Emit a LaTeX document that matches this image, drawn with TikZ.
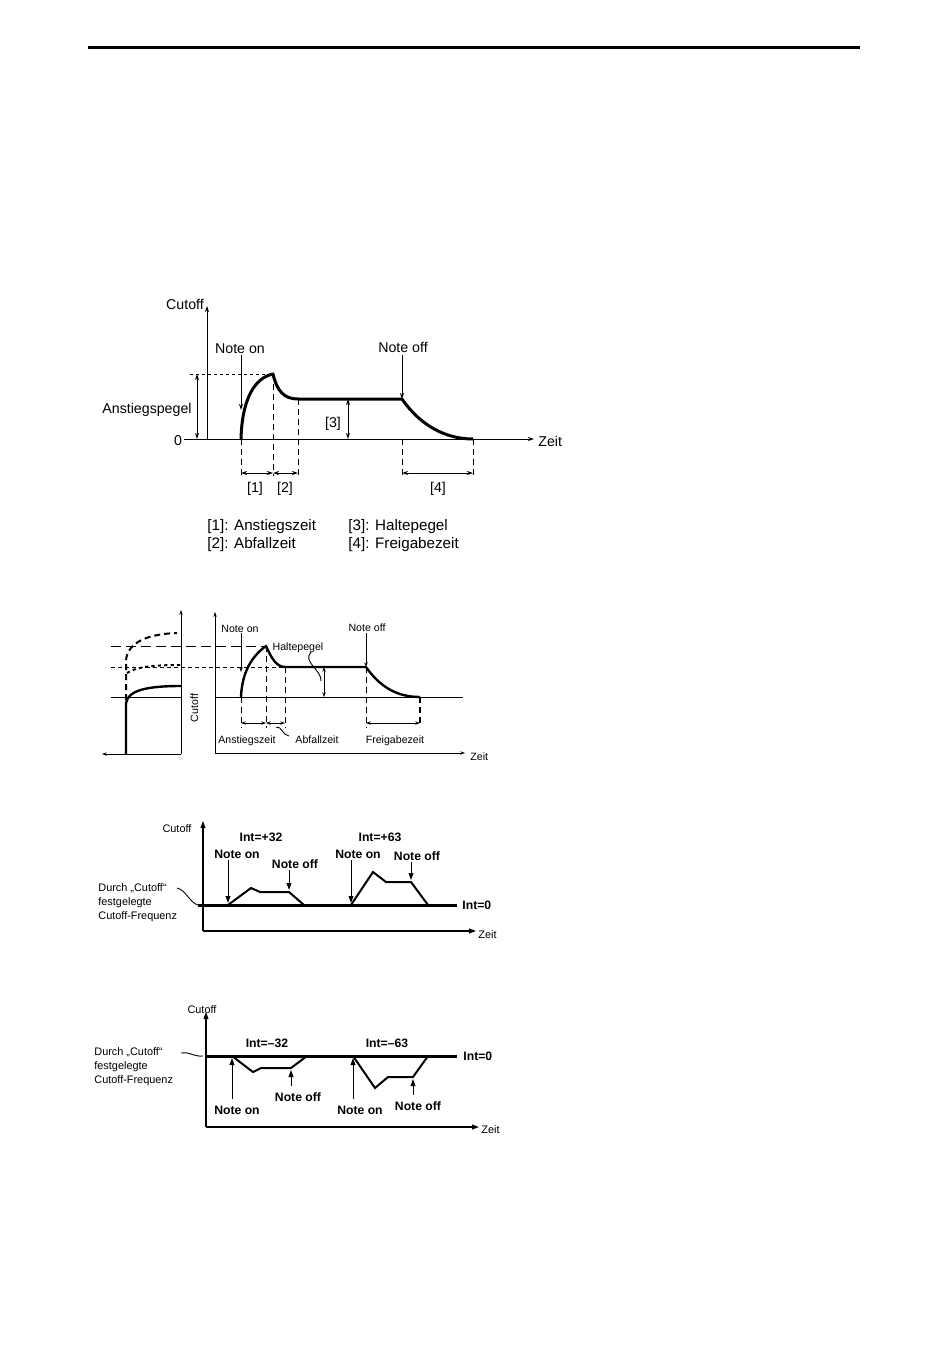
\documentclass[tikz,border=0pt]{standalone}
\usepackage{fontspec}
\setmainfont{Liberation Sans}
\usetikzlibrary{arrows.meta}
\newcommand{\fa}{\fontsize{7.1}{8.5}\selectfont}
\newcommand{\fl}{\fontsize{7.6}{9}\selectfont}
\newcommand{\fb}{\fontsize{5.3}{6.4}\selectfont}
\newcommand{\fc}{\fontsize{5.45}{7}\selectfont}
\newcommand{\fcb}{\fontsize{6.1}{7.3}\selectfont\bfseries}
\begin{document}
\begin{tikzpicture}[x=0.5pt,y=-0.5pt,
  lbl/.style={inner sep=0pt, text height=0.62em, text depth=0em},
  thinax/.style={line width=0.5pt},
  tipa/.style={-{Stealth[length=3pt,width=2pt]}},
  dtipa/.style={{Stealth[length=3pt,width=2pt]}-{Stealth[length=3pt,width=2pt]}},
  tipb/.style={-{Stealth[length=2.4pt,width=1.7pt]}},
  dtipb/.style={{Stealth[length=2.4pt,width=1.7pt]}-{Stealth[length=2.4pt,width=1.7pt]}},
  tipc/.style={-{Triangle[length=3.5pt,width=2.4pt]}},
  dsh/.style={line width=0.5pt, dash pattern=on 3pt off 2pt},
  env1/.style={line width=1.5pt, line join=round},
  env2/.style={line width=1.2pt, line join=round},
  pulse/.style={line width=1pt, line join=miter},
  base/.style={line width=1.5pt},
  leader/.style={line width=0.45pt}
]
\useasboundingbox[fill=white] (0,0) rectangle (950,1370);

% ---------- top rule ----------
\coordinate (r0) at (88,47.5);
\coordinate (r1) at (327,47.5);
\coordinate (r2) at (860,47.5);
\draw[line width=1.8pt] (r0) -- (r1);
\draw[line width=1.5pt] ([yshift=0.15pt]r1) -- ([yshift=0.15pt]r2);

% ================= FIGURE 1 =================
\coordinate (o1) at (207,439);
\coordinate (ytop1) at (207,306);
\coordinate (xl1) at (184,439);
\coordinate (xr1) at (534,439);
\draw[thinax,tipa] (o1) -- (ytop1);
\draw[thinax,tipa] (xl1) -- (xr1);
\node[lbl,font=\fa] (cut1) at (185,303) {Cutoff};
\node[lbl,font=\fa,anchor=west] (zeit1) at (538,440) {Zeit};
\node[lbl,font=\fa] (zero1) at (178,439) {0};

\coordinate (a0) at (241,439);
\coordinate (a1) at (273,374);
\coordinate (a2) at (298,399);
\coordinate (a3) at (402,399);
\coordinate (a4) at (473,439);
\draw[env1] (a0) .. controls (242,400) and (254,378) .. (a1)
  .. controls (277,391) and (284,399) .. (a2) -- (a3)
  .. controls (420,425) and (445,439) .. (a4);

% dotted level line
\coordinate (lv1) at (190,374);
\draw[line width=0.5pt, dash pattern=on 1.5pt off 1.5pt] (lv1) -- (a1);
% Anstiegspegel
\coordinate (ap0) at (197,374);
\coordinate (ap1) at (197,439);
\draw[thinax,dtipa] (ap0) -- (ap1);
\node[lbl,font=\fa,anchor=east] (anst) at (192,407) {Anstiegspegel};

% Note on / off
\node[lbl,font=\fa] (non1) at (240,347) {Note on};
\coordinate (non1t) at (241,410);
\draw[thinax,tipa] (241,355) -- (non1t);
\node[lbl,font=\fa] (noff1) at (403,346) {Note off};
\draw[thinax,tipa] (402,355) -- (a3);

% [3]
\coordinate (h0) at (348,399);
\coordinate (h1) at (348,439);
\draw[thinax,dtipa] (h0) -- (h1);
\node[lbl,font=\fa] (l3) at (333,421) {[3]};

% dashed verticals
\coordinate (d0) at (241,476);
\coordinate (d1) at (273,476);
\coordinate (d2) at (298,476);
\coordinate (d3) at (402,476);
\coordinate (d4) at (473,476);
\draw[dsh] (a0) -- (d0);
\draw[dsh] (a1) -- (d1);
\draw[dsh] (a2) -- (d2);
\draw[dsh] (402,439) -- (d3);
\draw[dsh] (a4) -- (d4);
% dimension arrows
\draw[thinax,dtipa] (241,473) -- (273,473);
\draw[thinax,dtipa] (273,473) -- (298,473);
\draw[thinax,dtipa] (402,473) -- (473,473);
\node[lbl,font=\fa] (l1) at (255,486) {[1]};
\node[lbl,font=\fa] (l2) at (285,486) {[2]};
\node[lbl,font=\fa] (l4) at (438,486) {[4]};

% legend
\node[lbl,font=\fl,anchor=west] (lg1) at (207,524) {[1]: Anstiegszeit};
\node[lbl,font=\fl,anchor=west] (lg2) at (207,542) {[2]: Abfallzeit};
\node[lbl,font=\fl,anchor=west] (lg3) at (348,524) {[3]: Haltepegel};
\node[lbl,font=\fl,anchor=west] (lg4) at (348,542) {[4]: Freigabezeit};

% ================= FIGURE 2 =================
% left panel
\coordinate (lo) at (181,754);
\draw[thinax,tipb] (lo) -- (181,610);
\draw[thinax,tipb] (lo) -- (102,754);
\draw[thinax] (111,697) -- (181,697);
\draw[env2] (126,754) -- (126,703) .. controls (128,690) and (148,686) .. (181,686);
\draw[line width=1pt, dash pattern=on 3pt off 2pt] (126,700) -- (126,660)
  .. controls (128,642) and (148,634) .. (177,633);
\draw[line width=1pt, dash pattern=on 1.6pt off 1.6pt] (127,673)
  .. controls (136,667) and (152,665) .. (181,665);
% long dash / short dash level lines
\draw[line width=0.5pt, dash pattern=on 5pt off 2.5pt] (111,646) -- (266,646);
\draw[line width=0.5pt, dash pattern=on 2pt off 1.5pt] (111,667) -- (285,667);
\node[lbl,font=\fb,rotate=90] (cut2) at (192,708) {Cutoff};

% right panel
\coordinate (ro) at (215,753);
\draw[thinax,tipb] (ro) -- (215,612);
\draw[thinax,tipb] (ro) -- (465,753);
\node[lbl,font=\fb,anchor=west] (zeit2) at (470,754) {Zeit};
\draw[thinax] (215,697) -- (463,697);

\coordinate (b0) at (241,697);
\coordinate (b1) at (266,646);
\coordinate (b2) at (285,667);
\coordinate (b3) at (366,667);
\coordinate (b4) at (420,697);
\draw[env2] (b0) .. controls (242,672) and (252,656) .. (b1)
  .. controls (271,657) and (276,667) .. (b2) -- (b3)
  .. controls (378,684) and (394,697) .. (b4);

\node[lbl,font=\fb] (non2) at (240,626) {Note on};
\draw[thinax,tipb] (241,633) -- (241,672);
\node[lbl,font=\fb] (noff2) at (367,625) {Note off};
\draw[thinax,tipb] (366,633) -- (b3);
\node[lbl,font=\fb] (halt2) at (298,644) {Haltepegel};
\draw[leader] (311,652) .. controls (302,662) and (322,670) .. (321,681);
\draw[thinax,dtipb] (324,667) -- (324,697);

\draw[dsh] (b0) -- (241,728);
\draw[dsh] (b1) -- (266,728);
\draw[dsh] (b2) -- (285,728);
\draw[dsh] (b3) -- (366,728);
\draw[line width=1pt, dash pattern=on 3pt off 2pt] (b4) -- (420,727);
\draw[thinax,dtipb] (241,723) -- (266,723);
\draw[thinax,dtipb] (266,723) -- (285,723);
\draw[thinax,dtipb] (366,723) -- (420,723);
\node[lbl,font=\fb] (ans2) at (247,737) {Anstiegszeit};
\node[lbl,font=\fb] (abf2) at (317,737) {Abfallzeit};
\draw[leader] (276,727) .. controls (282,726) and (282,735) .. (289,736);
\node[lbl,font=\fb] (frei2) at (395,737) {Freigabezeit};

% ================= FIGURE 3 =================
\coordinate (o3) at (203,931);
\draw[line width=0.6pt,tipc] (o3) -- (203,821);
\draw[line width=0.6pt,tipc] (o3) -- (476,931);
\node[lbl,font=\fc] (cut3) at (177,826) {Cutoff};
\node[lbl,font=\fc,anchor=west] (zeit3) at (478,932) {Zeit};
\draw[base] (198,905) -- (457,905);
\node[lbl,font=\fcb,anchor=west] (int30) at (462,903) {Int=0};
\draw[pulse] (228,905) -- (251,888) -- (260,892) -- (289,892) -- (304,905);
\draw[pulse] (351,905) -- (373,872) -- (386,882) -- (411,882) -- (428,905);
\node[lbl,font=\fcb] (i32) at (261,835) {Int=+32};
\node[lbl,font=\fcb] (i63) at (380,835) {Int=+63};
\node[lbl,font=\fcb] (non3a) at (237,852) {Note on};
\node[lbl,font=\fcb] (noff3a) at (295,862) {Note off};
\node[lbl,font=\fcb] (non3b) at (358,852) {Note on};
\node[lbl,font=\fcb] (noff3b) at (417,854) {Note off};
\draw[line width=0.5pt,tipc] (228,860) -- (228,903);
\draw[line width=0.5pt,tipc] (289,870) -- (289,890);
\draw[line width=0.5pt,tipc] (351,860) -- (351,903);
\draw[line width=0.5pt,tipc] (411,862) -- (411,880);
\node[lbl,font=\fc,anchor=west] (dur3a) at (98,885) {Durch „Cutoff“};
\node[lbl,font=\fc,anchor=west] (dur3b) at (98,899) {festgelegte};
\node[lbl,font=\fc,anchor=west] (dur3c) at (98,913) {Cutoff-Frequenz};
\draw[leader] (177,888) .. controls (186,890) and (190,903) .. (198,905);

% ================= FIGURE 4 =================
\coordinate (o4) at (206,1127);
\draw[line width=0.6pt,tipc] (o4) -- (206,1012);
\draw[line width=0.6pt,tipc] (o4) -- (479,1127);
\node[lbl,font=\fc] (cut4) at (202,1007) {Cutoff};
\node[lbl,font=\fc,anchor=west] (zeit4) at (481,1127) {Zeit};
\draw[base] (206,1056) -- (457,1056);
\node[lbl,font=\fcb,anchor=west] (int40) at (463,1054) {Int=0};
\draw[pulse] (232,1056) -- (253,1072) -- (261,1068) -- (291,1068) -- (307,1056);
\draw[pulse] (353,1056) -- (375,1088) -- (388,1077) -- (413,1077) -- (428,1056);
\node[lbl,font=\fcb] (im32) at (267,1041) {Int=–32};
\node[lbl,font=\fcb] (im63) at (387,1041) {Int=–63};
\node[lbl,font=\fcb] (non4a) at (237,1108) {Note on};
\node[lbl,font=\fcb] (noff4a) at (298,1095) {Note off};
\node[lbl,font=\fcb] (non4b) at (360,1108) {Note on};
\node[lbl,font=\fcb] (noff4b) at (418,1104) {Note off};
\draw[line width=0.5pt,tipc] (232,1099) -- (232,1058);
\draw[line width=0.5pt,tipc] (291,1086) -- (291,1070);
\draw[line width=0.5pt,tipc] (353,1099) -- (353,1058);
\draw[line width=0.5pt,tipc] (413,1095) -- (413,1079);
\node[lbl,font=\fc,anchor=west] (dur4a) at (94,1049) {Durch „Cutoff“};
\node[lbl,font=\fc,anchor=west] (dur4b) at (94,1063) {festgelegte};
\node[lbl,font=\fc,anchor=west] (dur4c) at (94,1077) {Cutoff-Frequenz};
\draw[leader] (181,1053) .. controls (188,1051) and (194,1057) .. (203,1056);
\end{tikzpicture}
\end{document}
